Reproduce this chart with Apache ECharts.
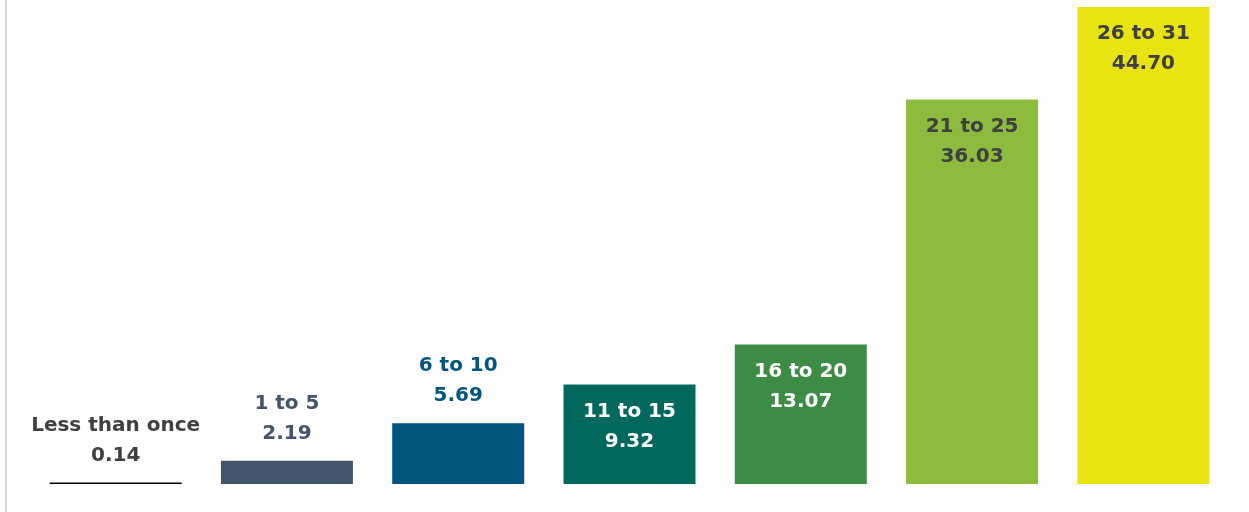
<!DOCTYPE html>
<html>
<head>
<meta charset="utf-8">
<script src="https://cdn.jsdelivr.net/npm/echarts@6/dist/echarts.min.js"></script>
<style>
  html, body { margin: 0; padding: 0; background: #fff; }
  #chart { width: 1249px; height: 512px; position: relative; }
  #chart::before { content: ""; position: absolute; left: 5px; top: 0; bottom: 0; width: 2px; background: #d9d9d9; z-index: 5; }
</style>
</head>
<body>
<div id="chart"></div>
<script>
const categories = ["Less than once", "1 to 5", "6 to 10", "11 to 15", "16 to 20", "21 to 25", "26 to 31"];
const values = [0.14, 2.19, 5.69, 9.32, 13.07, 36.03, 44.70];

const barColors = ["#000000", "#44546a", "#00567f", "#00685d", "#3d8c45", "#8dbb3e", "#e8e412"];
const labelColors = ["#404040", "#44546a", "#00567f", "#ffffff", "#ffffff", "#404040", "#404040"];
const insideLabel = [false, false, false, true, true, true, true];

const chart = echarts.init(document.getElementById("chart"));

const data = values.map((v, i) => ({
  value: v,
  itemStyle: { color: barColors[i] },
  label: {
    position: insideLabel[i] ? "insideTop" : "top",
    distance: 12,
    color: labelColors[i]
  }
}));

chart.setOption({
  animation: false,
  grid: { left: 30, right: 20, top: 7, bottom: 28 },
  xAxis: { type: "category", data: categories, show: false },
  yAxis: { type: "value", min: 0, max: 44.70, show: false },
  series: [{
    type: "bar",
    data,
    barWidth: 132,
    label: {
      show: true,
      fontFamily: "DejaVu Sans",
      fontWeight: "bold",
      fontSize: 20,
      lineHeight: 30,
      align: "center",
      formatter: (p) => p.name + "\n" + p.value.toFixed(2)
    }
  }]
});
</script>
</body>
</html>
